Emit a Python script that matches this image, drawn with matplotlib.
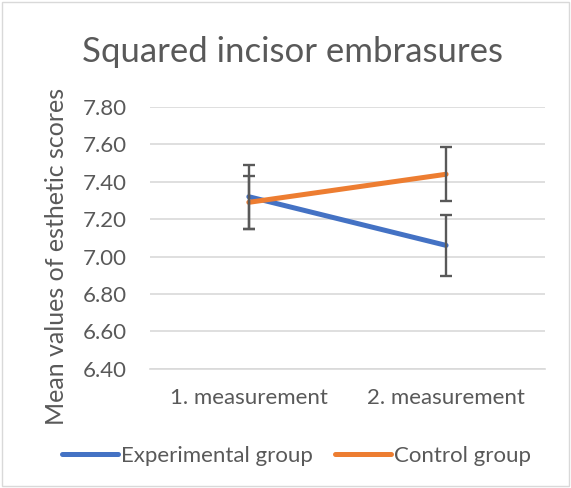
import matplotlib.pyplot as plt
from matplotlib.patches import Rectangle

plt.rcParams['font.family'] = ['Lato', 'DejaVu Sans']

categories = ['1. measurement', '2. measurement']
experimental = [7.32, 7.06]
experimental_err = [0.17, 0.165]
control = [7.29, 7.44]
control_err = [0.14, 0.145]
yticks = [6.40, 6.60, 6.80, 7.00, 7.20, 7.40, 7.60, 7.80]

fig = plt.figure(figsize=(5.71, 4.88), dpi=100)
ax = fig.add_axes([0.263, 0.244, 0.691, 0.537])

x = range(len(categories))
ax.plot(x, experimental, color='#4472c4', lw=3.6, solid_capstyle='round', label='Experimental group', zorder=3)
ax.errorbar(x, experimental, yerr=experimental_err, fmt='none', ecolor='#595959', elinewidth=1.7, capsize=4.5, capthick=1.7, zorder=4)
ax.plot(x, control, color='#ed7d31', lw=3.6, solid_capstyle='round', label='Control group', zorder=3)
ax.errorbar(x, control, yerr=control_err, fmt='none', ecolor='#595959', elinewidth=1.7, capsize=4.5, capthick=1.7, zorder=4)

ax.set_xlim(-0.5, 1.5)
ax.set_ylim(6.40, 7.80)
ax.set_yticks(yticks)
ax.set_yticklabels([f'{v:.2f}' for v in yticks])
ax.set_xticks(list(x))
ax.set_xticklabels(categories)
ax.grid(axis='y', color='#d9d9d9', lw=1.2)
ax.set_axisbelow(True)
for s in ['top', 'right', 'left']:
    ax.spines[s].set_visible(False)
ax.spines['bottom'].set_color('#d9d9d9')
ax.spines['bottom'].set_linewidth(1.2)
ax.tick_params(length=0, labelsize=16, colors='#595959', pad=17)
ax.tick_params(axis='x', pad=14)

fig.text(57 / 571, 1 - 256 / 488, 'Mean values of esthetic scores', rotation=90,
         ha='center', va='center', fontsize=18, color='#595959')
fig.text(0.512, 0.893, 'Squared incisor embrasures', ha='center', va='center', fontsize=25, color='#595959')

fig.legend(loc='center', bbox_to_anchor=(0.52, 0.066), ncol=2, frameon=False,
           fontsize=16, handlelength=2.5, handletextpad=0.15, columnspacing=1.0,
           labelcolor='#595959')

fig.patches.append(Rectangle((0.004, 0.004), 0.992, 0.992, transform=fig.transFigure,
                             fill=False, edgecolor='#d9d9d9', lw=1))

fig.savefig('out.png', dpi=100)
